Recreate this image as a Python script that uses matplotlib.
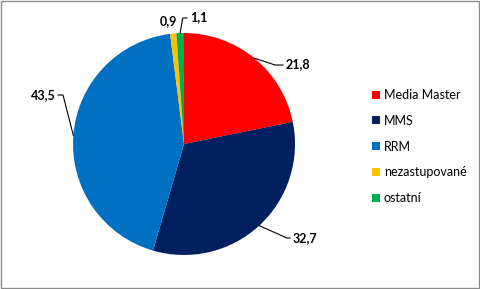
import numpy as np
import matplotlib
matplotlib.use("Agg")
import matplotlib.pyplot as plt
from matplotlib.patches import Rectangle

# data
categories = ["Media Master", "MMS", "RRM", "nezastupované", "ostatní"]
shares = [21.8, 32.7, 43.5, 0.9, 1.1]
labels = ["21,8", "32,7", "43,5", "0,9", "1,1"]
colors = ["#FF0000", "#002060", "#0070C0", "#FFC000", "#00B050"]

W, H = 481, 289
cx, cy, R = 184, H - 144, 111  # pie centre / radius in pixels

# label layout: text anchor (x, y from top), alignment, elbow point or None
label_layout = [
    ((286, 64), "left", (275, 65)),
    ((293, 238), "left", (287, 238)),
    ((56, 95), "right", (63, 95)),
    ((177, 21), "right", None),
    ((190, 17), "left", (182.7, 18)),
]

plt.rcParams["font.family"] = ["Lato", "DejaVu Sans"]

fig = plt.figure(figsize=(W / 100, H / 100), dpi=100)
ax = fig.add_axes([0, 0, 1, 1])
wedges, _ = ax.pie(shares, colors=colors, startangle=90, counterclock=False,
                   center=(cx, cy), radius=R, frame=True,
                   wedgeprops=dict(linewidth=0))
ax.set_xlim(0, W)
ax.set_ylim(0, H)
ax.set_aspect("auto")
ax.axis("off")

# data labels with leader lines
cum = np.cumsum([0] + shares[:-1])
for i, (val, txt) in enumerate(zip(shares, labels)):
    mid = np.deg2rad(90 - (cum[i] + val / 2) * 3.6)
    ex, ey = cx + R * np.cos(mid), cy + R * np.sin(mid)
    (tx, ty), ha, elbow = label_layout[i]
    ty = H - ty
    if elbow is not None:
        bx, by = elbow[0], H - elbow[1]
        end = tx - 3 if ha == "left" else tx + 2
        ax.plot([ex, bx, end], [ey, by, by], color="black", lw=0.8,
                solid_joinstyle="miter")
    ax.text(tx, ty, txt, ha=ha, va="center", fontsize=9,
            fontweight="bold", color="black")

leg = fig.legend(wedges, categories, loc="upper left",
                 bbox_to_anchor=(372 / W, 1 - 89 / H), frameon=False,
                 fontsize=9, handlelength=0.6, handleheight=0.6,
                 handletextpad=0.35, labelspacing=1.1, borderpad=0,
                 borderaxespad=0)

# chart area border
fig.patches.append(Rectangle((0.5 / W, 1.5 / H), 479 / W, 287 / H,
                             transform=fig.transFigure, fill=False,
                             edgecolor="#8c8c8c", lw=1.0))

fig.savefig("out.png", dpi=100)
